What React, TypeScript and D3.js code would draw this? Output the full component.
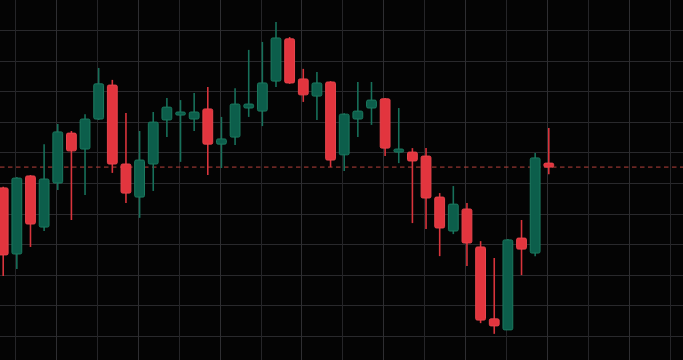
import React from "react";
import * as d3 from "d3";

const W = 683;
const H = 360;

const opens = [48.4, 26.8, 52.3, 35.6, 50.0, 66.3, 61.1, 70.9, 82.0, 56.2, 45.4, 56.2, 70.6, 72.2, 70.9, 74.2, 62.7, 65.0, 74.5, 73.5, 83.3, 97.1, 84.0, 78.4, 83.0, 59.2, 70.9, 74.5, 77.5, 60.1, 60.1, 58.8, 45.4, 34.3, 41.5, 29.1, 5.6, 2.0, 32.0, 27.1, 56.5];
const highs = [48.8, 52.0, 52.6, 62.7, 69.3, 67.0, 72.5, 87.6, 83.7, 72.9, 67.0, 73.2, 77.8, 77.1, 79.4, 81.4, 71.6, 81.0, 93.5, 96.1, 102.6, 97.7, 87.3, 86.3, 83.3, 72.8, 83.0, 83.0, 77.8, 74.5, 61.4, 61.4, 46.7, 49.0, 43.5, 31.0, 25.5, 31.7, 37.9, 59.8, 68.0];
const lows = [19.6, 21.9, 29.1, 34.3, 47.7, 37.9, 46.1, 70.6, 53.3, 43.5, 38.6, 47.4, 65.0, 56.9, 67.0, 52.6, 54.9, 62.4, 71.6, 68.6, 81.4, 82.4, 76.5, 70.6, 55.2, 53.9, 65.0, 69.0, 58.8, 56.5, 36.9, 35.0, 26.1, 33.3, 22.9, 4.2, 0.7, 2.0, 19.9, 26.1, 52.9];
const closes = [26.5, 51.6, 36.6, 51.3, 66.7, 60.5, 70.9, 82.4, 56.2, 46.7, 57.5, 69.9, 74.8, 73.2, 73.2, 62.7, 64.4, 75.8, 75.8, 82.7, 97.4, 82.7, 78.8, 82.7, 57.5, 72.5, 73.5, 77.1, 61.4, 61.1, 57.2, 45.1, 35.3, 43.1, 30.4, 5.2, 3.3, 31.4, 28.4, 58.2, 55.2];

const priceTicks = [0, 10, 20, 30, 40, 50, 60, 70, 80, 90, 100];
const timeGridIdx = d3.range(0, 17).map((k) => 0.865 + 3 * k);
const lastPrice = 55.2;

const RED = "#e2353e";
const RED_WICK = "#d9343c";
const GREEN = "#0c5e4b";
const GREEN_STROKE = "#1c7b60";
const GREEN_WICK = "#17705a";

export default function App() {
  const x = d3.scaleLinear().domain([0, 40]).range([3.2, 548.8]);
  const y = d3.scaleLinear().domain([0, 100]).range([336, 30]);
  const bodyW = 9.8;

  return (
    <svg
      width={W}
      height={H}
      style={{ position: "absolute", left: 0, top: 0, background: "#040404" }}
    >
      <rect x={0} y={0} width={W} height={H} fill="#040404" />
      <g>
        {priceTicks.map((p) => (
          <line
            key={"h" + p}
            x1={0}
            x2={W}
            y1={Math.round(y(p)) + 0.5}
            y2={Math.round(y(p)) + 0.5}
            stroke="#29292c"
            strokeWidth={1}
          />
        ))}
        {timeGridIdx.map((t, i) => (
          <line
            key={"v" + i}
            x1={Math.round(x(t)) + 0.5}
            x2={Math.round(x(t)) + 0.5}
            y1={0}
            y2={H}
            stroke={i % 2 === 1 ? "#2e2e31" : "#252528"}
            strokeWidth={1}
          />
        ))}
      </g>
      <line
        x1={0}
        x2={W}
        y1={y(lastPrice)}
        y2={y(lastPrice)}
        stroke="#b8423c"
        strokeWidth={1}
        strokeDasharray="4.5,3.5"
      />
      <g>
        {opens.map((o, i) => {
          const c = closes[i];
          const up = c >= o;
          const cx = x(i);
          const top = y(Math.max(o, c));
          const bot = y(Math.min(o, c));
          const h = Math.max(bot - top, 2.5);
          return (
            <g key={i}>
              <line
                x1={cx}
                x2={cx}
                y1={y(highs[i])}
                y2={y(lows[i])}
                stroke={up ? GREEN_WICK : RED_WICK}
                strokeWidth={1.6}
              />
              <rect
                x={cx - bodyW / 2}
                y={top}
                width={bodyW}
                height={h}
                rx={1.5}
                fill={up ? GREEN : RED}
                stroke={up ? GREEN_STROKE : "#e8454d"}
                strokeWidth={1}
              />
            </g>
          );
        })}
      </g>
    </svg>
  );
}
